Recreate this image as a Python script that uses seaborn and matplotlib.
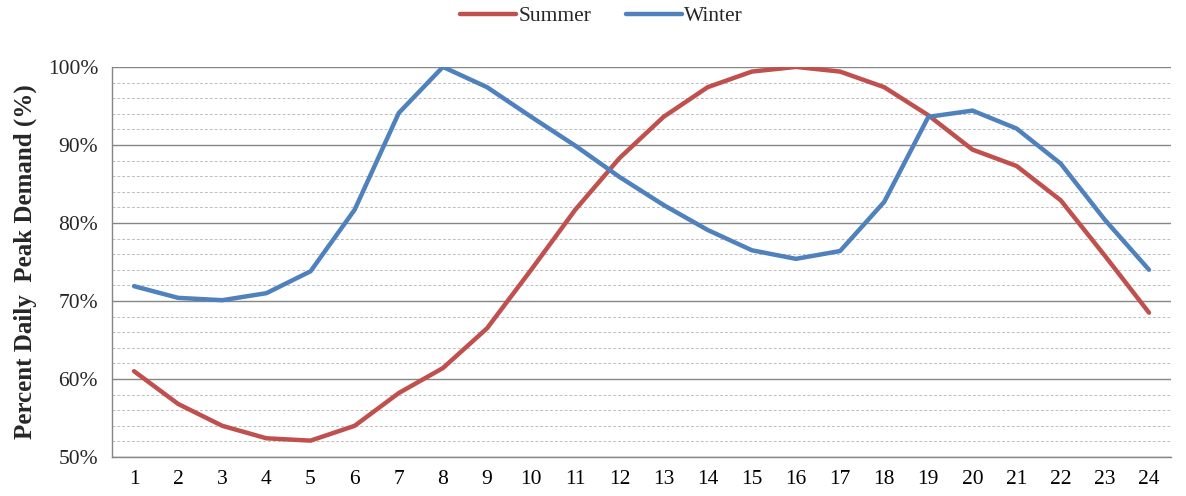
import pandas as pd
import matplotlib.pyplot as plt
import seaborn as sns
from matplotlib.ticker import FuncFormatter, MultipleLocator

hours = list(range(1, 25))
summer = [61.0, 56.8, 54.0, 52.4, 52.1, 54.0, 58.2, 61.4, 66.5, 74.0, 81.7, 88.3,
          93.6, 97.4, 99.4, 100.0, 99.4, 97.4, 93.8, 89.4, 87.3, 82.9, 75.8, 68.5]
winter = [71.9, 70.4, 70.1, 71.0, 73.8, 81.7, 94.1, 100.0, 97.4, 93.6, 89.9, 85.9,
          82.3, 79.1, 76.5, 75.4, 76.4, 82.7, 93.6, 94.4, 92.1, 87.6, 80.4, 74.0]

df = pd.DataFrame({"Hour": hours * 2,
                   "Demand": [v / 100 for v in summer + winter],
                   "Season": ["Summer"] * 24 + ["Winter"] * 24})

sns.set_style("white")
plt.rcParams["font.family"] = ["Liberation Serif", "DejaVu Serif"]

fig = plt.figure(figsize=(11.86, 4.96), dpi=100)
ax = fig.add_axes([0.0944, 0.0786, 0.893, 0.7865])

sns.lineplot(data=df, x="Hour", y="Demand", hue="Season",
             palette={"Summer": "#C0504D", "Winter": "#4F81BD"},
             linewidth=3.2, ax=ax, legend=True)

ax.set_xlim(0.5, 24.5)
ax.set_ylim(0.5, 1.0)
ax.set_xticks(hours)
ax.set_xticks([h + 0.5 for h in range(0, 25)], minor=True)
ax.tick_params(axis="x", which="major", length=0, labelsize=15.5, pad=9, colors="#000000")
ax.tick_params(axis="x", which="minor", length=6, width=1, color="#868686", direction="out")

ax.yaxis.set_major_locator(MultipleLocator(0.1))
ax.yaxis.set_minor_locator(MultipleLocator(0.02))
ax.yaxis.set_major_formatter(FuncFormatter(lambda v, p: f"{v * 100:.0f}%"))
ax.tick_params(axis="y", which="major", length=6, width=1, color="#868686",
               direction="out", labelsize=15.5, pad=4)
ax.tick_params(axis="y", which="minor", length=0)

ax.grid(axis="y", which="major", color="#868686", linewidth=1)
ax.grid(axis="y", which="minor", color="#BFBFBF", linewidth=0.7, linestyle=(0, (3, 2)))
ax.set_axisbelow(True)

for side in ["top", "right"]:
    ax.spines[side].set_visible(False)
for side in ["left", "bottom"]:
    ax.spines[side].set_color("#868686")
    ax.spines[side].set_linewidth(1)

ax.set_xlabel("")
ax.set_ylabel("Percent Daily  Peak Demand (%)", fontsize=18, fontweight="bold", labelpad=8)

handles, labels = ax.get_legend_handles_labels()
ax.legend(handles, labels, loc="upper center", bbox_to_anchor=(0.462, 1.205), ncol=2,
          frameon=False, fontsize=15.5, handlelength=2.6, handletextpad=0.1,
          columnspacing=1.6)

fig.savefig("out.png", dpi=100)
